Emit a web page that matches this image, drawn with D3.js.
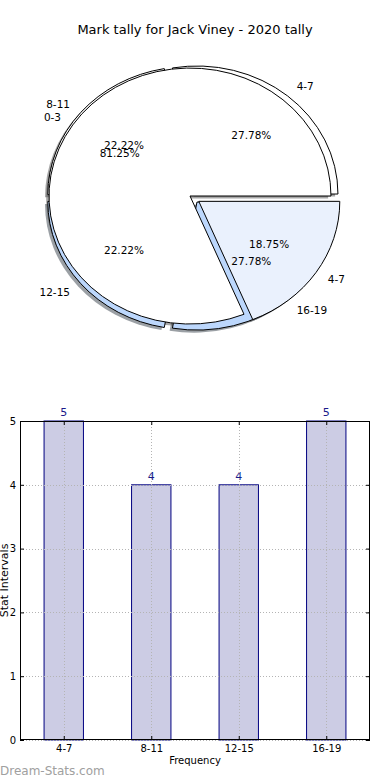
<!DOCTYPE html>
<html lang="en">
<head>
<meta charset="utf-8">
<title>Mark tally for Jack Viney - 2020 tally</title>
<script src="https://cdn.jsdelivr.net/npm/d3@7"></script>
<style>
  body { margin: 0; background: #fff; }
  svg text { font-family: "DejaVu Sans", sans-serif; }
</style>
</head>
<body>
<div id="vis"></div>
<script>
// tally pie (back) and the 0-3 pie drawn over it
var tallyLabels = ["4-7", "8-11", "12-15", "16-19"];
var tallyValues = [5, 4, 4, 5];
var tallyColors = ["#ffffff", "#ffffff", "#bcd7fc", "#bcd7fc"];
var tallyExplode = [0.041, 0.041, 0.041, 0.041];

var zeroLabels = ["0-3", "4-7"];
var zeroValues = [13, 3];
var zeroColors = ["#ffffff", "#eaf1fd"];
var zeroExplode = [0, 0.075];

// bar chart
var barCategories = ["4-7", "8-11", "12-15", "16-19"];
var barValues = [5, 4, 4, 5];
var yTicks = [0, 1, 2, 3, 4, 5];

var W = 390, H = 780;
var svg = d3.select("#vis").append("svg").attr("width", W).attr("height", H);

svg.append("text").attr("x", 195).attr("y", 34).attr("text-anchor", "middle")
  .attr("font-size", 13).text("Mark tally for Jack Viney - 2020 tally");

// ---------- pies (elliptical, like an un-equal matplotlib axis) ----------
var cx = 190, cy = 196, rx = 141, ry = 128;
var arc = d3.arc().innerRadius(0).outerRadius(1);
// matplotlib style: start at 3 o'clock, go counter-clockwise
var pie = d3.pie().sort(null).startAngle(Math.PI / 2).endAngle(Math.PI / 2 - 2 * Math.PI);

function darken(c) {
  var r = d3.rgb(c);
  return d3.rgb(r.r * 0.3, r.g * 0.3, r.b * 0.3).toString();
}

var pies = [
  { labels: tallyLabels, values: tallyValues, colors: tallyColors, explode: tallyExplode, ox: 0.023, oy: 0.016 },
  { labels: zeroLabels, values: zeroValues, colors: zeroColors, explode: zeroExplode, ox: 0, oy: 0 }
];

var wedges = [];
pies.forEach(function(p, pi) {
  var total = d3.sum(p.values);
  pie(p.values).forEach(function(d, i) {
    var m = (d.startAngle + d.endAngle) / 2;
    var ux = Math.sin(m), uy = -Math.cos(m);
    var e = p.explode[i];
    wedges.push({
      d: d, pie: pi, color: p.colors[i], label: p.labels[i],
      pct: (100 * d.value / total).toFixed(2) + "%",
      ux: ux, uy: uy,
      dx: p.ox + e * ux, dy: p.oy + e * uy, e: e
    });
  });
});

var sx = d3.scaleLinear().domain([-1, 1]).range([cx - rx, cx + rx]);
var sy = d3.scaleLinear().domain([-1, 1]).range([cy - ry, cy + ry]);

var pieG = svg.append("g").attr("transform", "translate(" + cx + "," + cy + ") scale(" + rx + "," + ry + ")");

// shadows first (behind all wedges)
pieG.selectAll("path.shadow").data(wedges).enter().append("path")
  .attr("class", "shadow")
  .attr("transform", function(w) { return "translate(" + (w.dx - 0.02) + "," + (w.dy + 0.02) + ")"; })
  .attr("d", function(w) { return arc(w.d); })
  .attr("fill", function(w) { return darken(w.color); })
  .attr("fill-opacity", 0.5);

pieG.selectAll("path.wedge").data(wedges).enter().append("path")
  .attr("class", "wedge")
  .attr("transform", function(w) { return "translate(" + w.dx + "," + w.dy + ")"; })
  .attr("d", function(w) { return arc(w.d); })
  .attr("fill", function(w) { return w.color; })
  .attr("stroke", "#000")
  .attr("stroke-width", 1)
  .attr("vector-effect", "non-scaling-stroke");

var txt = svg.append("g").attr("font-size", 10.5).attr("fill", "#000");
wedges.forEach(function(w) {
  var p = pies[w.pie];
  txt.append("text")
    .attr("x", sx(p.ox + (1.1 + w.e) * w.ux))
    .attr("y", sy(p.oy + (1.1 + w.e) * w.uy))
    .attr("dy", "0.35em")
    .attr("text-anchor", w.ux > 0 ? "start" : "end")
    .text(w.label);
  txt.append("text")
    .attr("x", sx(p.ox + (0.6 + w.e) * w.ux))
    .attr("y", sy(p.oy + (0.6 + w.e) * w.uy))
    .attr("dy", "0.35em")
    .attr("text-anchor", "middle")
    .text(w.pct);
});

// ---------- bar chart ----------
var plotLeft = 20, plotRight = 370, plotTop = 421, plotBottom = 740;
var x = d3.scalePoint().domain(barCategories).range([plotLeft, plotRight]).padding(0.5);
var y = d3.scaleLinear().domain([0, 5]).range([plotBottom, plotTop]);
var barW = x.step() * 0.45;

var bars = svg.append("g");
bars.selectAll("rect").data(barValues).enter().append("rect")
  .attr("x", function(d, i) { return x(barCategories[i]) - barW / 2; })
  .attr("y", function(d) { return y(d); })
  .attr("width", barW)
  .attr("height", function(d) { return y(0) - y(d); })
  .attr("fill", "#ccccE4")
  .attr("stroke", "#000080")
  .attr("stroke-width", 1);

bars.selectAll("text").data(barValues).enter().append("text")
  .attr("x", function(d, i) { return x(barCategories[i]); })
  .attr("y", function(d) { return y(d) - 5; })
  .attr("text-anchor", "middle")
  .attr("font-size", 11)
  .attr("fill", "#1a1a8a")
  .text(function(d) { return d; });

// grid, dotted, over the bars
var grid = svg.append("g").attr("stroke", "#b4b4b4").attr("stroke-dasharray", "1,2").attr("stroke-width", 1);
grid.selectAll("line.h").data(yTicks).enter().append("line")
  .attr("x1", plotLeft).attr("x2", plotRight)
  .attr("y1", function(d) { return Math.round(y(d)) + 0.5; })
  .attr("y2", function(d) { return Math.round(y(d)) + 0.5; });
grid.selectAll("line.v").data(barCategories).enter().append("line")
  .attr("x1", function(d) { return Math.round(x(d)) + 0.5; })
  .attr("x2", function(d) { return Math.round(x(d)) + 0.5; })
  .attr("y1", plotTop).attr("y2", plotBottom);

// axes (ticks inside, on all four sides)
var axG = svg.append("g").attr("font-size", 7);
axG.append("g").attr("transform", "translate(" + plotLeft + ",0)")
  .call(d3.axisLeft(y).tickValues(yTicks).tickSize(-4).tickPadding(4).tickFormat(d3.format("d")));
axG.append("g").attr("transform", "translate(" + plotRight + ",0)")
  .call(d3.axisRight(y).tickValues(yTicks).tickSize(-4).tickFormat(""));
axG.append("g").attr("transform", "translate(0," + plotBottom + ")")
  .call(d3.axisBottom(x).tickSize(-4).tickPadding(5));
axG.append("g").attr("transform", "translate(0," + plotTop + ")")
  .call(d3.axisTop(x).tickSize(-4).tickFormat(""));
axG.selectAll(".domain").remove();
axG.selectAll("text").attr("font-family", "DejaVu Sans").attr("fill", "#000");

svg.append("rect").attr("x", plotLeft + 0.5).attr("y", plotTop + 0.5)
  .attr("width", plotRight - plotLeft - 1).attr("height", plotBottom - plotTop - 1)
  .attr("fill", "none").attr("stroke", "#000").attr("stroke-width", 1);

svg.append("text").attr("x", 195).attr("y", 764).attr("text-anchor", "middle")
  .attr("font-size", 10).text("Frequency");
svg.append("text").attr("transform", "translate(8," + ((plotTop + plotBottom) / 2) + ") rotate(-90)")
  .attr("text-anchor", "middle").attr("font-size", 11).text("Stat Intervals");

svg.append("text").attr("x", 0).attr("y", 775).attr("font-size", 12)
  .attr("fill", "#a0a0a0").text("Dream-Stats.com");
</script>
</body>
</html>
